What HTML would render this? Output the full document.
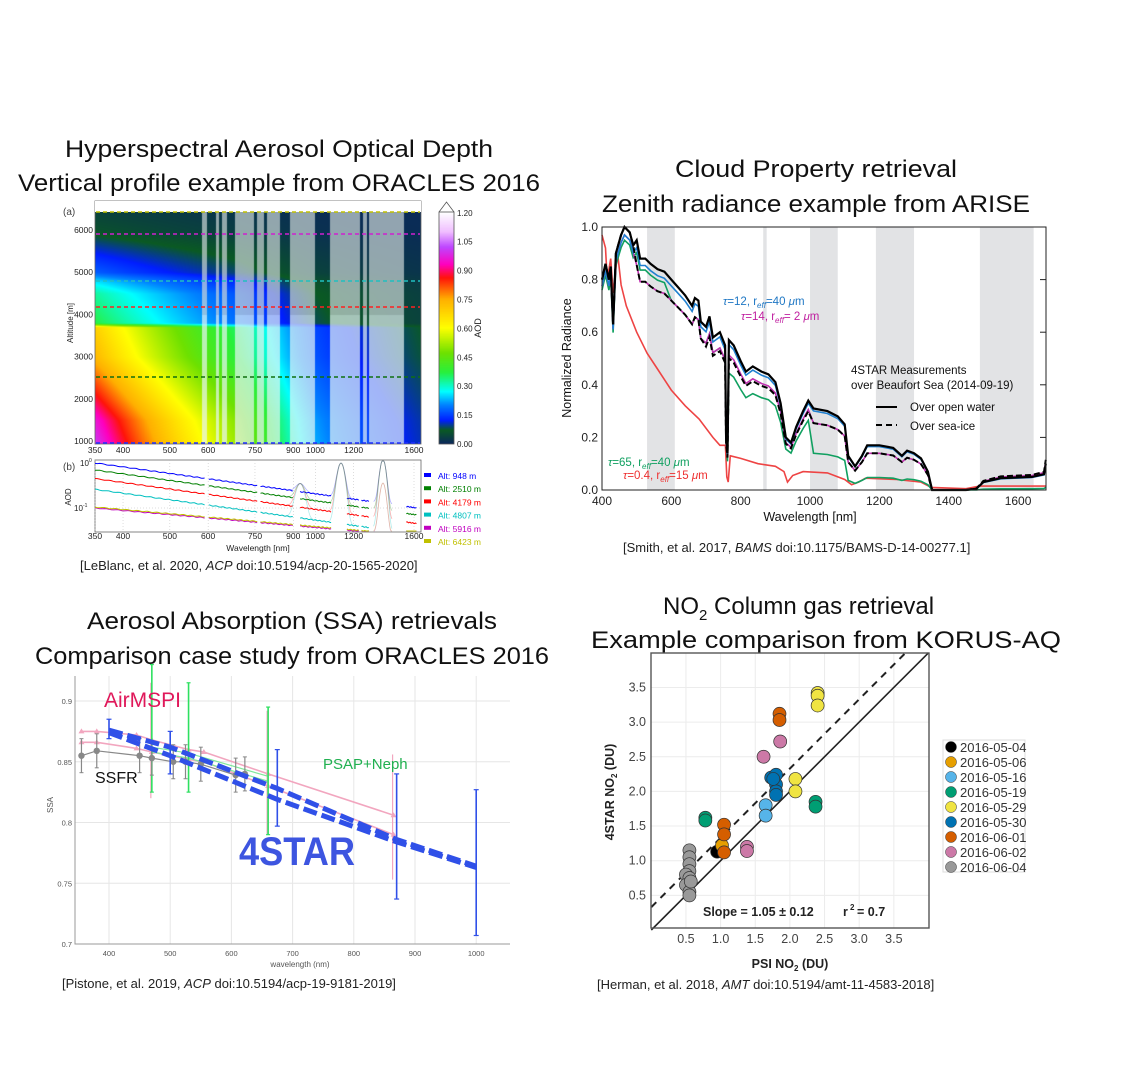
<!DOCTYPE html>
<html><head><meta charset="utf-8">
<style>
html,body{margin:0;padding:0;background:#fff;}
#wrap{position:relative;width:1136px;height:1080px;overflow:hidden;}
svg{position:absolute;left:0;top:0;}
canvas{position:absolute;}
text{font-family:"Liberation Sans",sans-serif;}
.t{font-size:24px;fill:#111;}
.c{font-size:13px;fill:#222;}
</style></head><body>
<div id="wrap">
<canvas id="hm" width="326" height="232" style="left:95px;top:212px;"></canvas>
<canvas id="cb" width="15" height="232" style="left:439px;top:212px;"></canvas>
<svg id="s" width="1136" height="1080" xmlns="http://www.w3.org/2000/svg">
<text class="t" x="65" y="157" textLength="428" lengthAdjust="spacingAndGlyphs">Hyperspectral Aerosol Optical Depth</text>
<text class="t" x="18" y="191" textLength="522" lengthAdjust="spacingAndGlyphs">Vertical profile example from ORACLES 2016</text>
<text class="t" x="675" y="177" textLength="282" lengthAdjust="spacingAndGlyphs">Cloud Property retrieval</text>
<text class="t" x="602" y="212" textLength="428" lengthAdjust="spacingAndGlyphs">Zenith radiance example from ARISE</text>
<text class="t" x="87" y="629" textLength="410" lengthAdjust="spacingAndGlyphs">Aerosol Absorption (SSA) retrievals</text>
<text class="t" x="35" y="664" textLength="514" lengthAdjust="spacingAndGlyphs">Comparison case study from ORACLES 2016</text>
<text class="t" x="663" y="614">NO<tspan font-size="15" dy="6">2</tspan><tspan dy="-6"> Column gas retrieval</tspan></text>
<text class="t" x="591" y="648" textLength="470" lengthAdjust="spacingAndGlyphs">Example comparison from KORUS-AQ</text>
<text class="c" x="80" y="570">[LeBlanc, et al. 2020, <tspan font-style="italic">ACP</tspan> doi:10.5194/acp-20-1565-2020]</text>
<text class="c" x="623" y="552">[Smith, et al. 2017, <tspan font-style="italic">BAMS</tspan> doi:10.1175/BAMS-D-14-00277.1]</text>
<text class="c" x="62" y="988">[Pistone, et al. 2019, <tspan font-style="italic">ACP</tspan> doi:10.5194/acp-19-9181-2019]</text>
<text class="c" x="597" y="989">[Herman, et al. 2018, <tspan font-style="italic">AMT</tspan> doi:10.5194/amt-11-4583-2018]</text>
<g id="g"></g>
</svg>
</div>
<script>
const S=document.getElementById('g');const NS='http://www.w3.org/2000/svg';
function el(t,a,txt){const e=document.createElementNS(NS,t);for(const k in a)e.setAttribute(k,a[k]);if(txt!==undefined)e.textContent=txt;S.appendChild(e);return e;}
function pl(pts,a){a.points=pts.map(p=>p[0].toFixed(1)+','+p[1].toFixed(1)).join(' ');a.fill=a.fill||'none';return el('polyline',a);}
const cmap=[[0,[10,40,90]],[0.07,[10,90,35]],[0.12,[0,30,255]],[0.2,[0,130,255]],[0.27,[0,255,255]],[0.37,[40,240,60]],[0.47,[110,225,0]],[0.6,[255,255,0]],[0.75,[255,175,0]],[0.86,[255,20,10]],[0.93,[255,0,190]],[1.02,[190,70,255]],[1.1,[240,190,255]],[1.2,[255,255,255]]];
function cm(v){if(v<=0)return cmap[0][1];for(let i=1;i<cmap.length;i++){if(v<=cmap[i][0]){const a=cmap[i-1],b=cmap[i];const f=(v-a[0])/(b[0]-a[0]);return a[1].map((c,j)=>c+(b[1][j]-c)*f);}}return [255,255,255];}
function A(alt){const p=[[900,0.88],[1500,0.84],[2000,0.77],[3000,0.64],[3700,0.6],[3800,0.32],[4500,0.28],[4800,0.22],[5000,0.15],[5500,0.1],[6000,0.05],[6500,0.03]];if(alt<=p[0][0])return p[0][1];for(let i=1;i<p.length;i++)if(alt<=p[i][0]){const f=(alt-p[i-1][0])/(p[i][0]-p[i-1][0]);return p[i-1][1]+(p[i][1]-p[i-1][1])*f;}return 0.03;}
const wlx=x=>350*Math.exp(x/209.9);
const lightZ=[[455,470],[497,505],[515,530],[555,612],[620,640],[650,688],[720,795],[840,928],[938,950],[957,1060]];
function colType(x){const zx=(x+45)*3;if(zx<455)return 'a';for(const r of lightZ)if(zx>=r[0]&&zx<r[1])return 'l';return 'd';}
const hc=document.getElementById('hm').getContext('2d');const img=hc.createImageData(326,232);
for(let y=0;y<232;y++){const alt=1000+(441-(212+y))/42.2*1000;for(let x=0;x<326;x++){const w=wlx(x);const t=colType(x);const al=w<700?1.0:1.0+0.5*Math.min(1,(w-700)/300);let v=A(alt)*Math.pow(w/400,-al);let c=cm(v);
if(t==='l'){const g=alt>4000?[205,215,215]:[232,245,245];c=c.map((q,j)=>q*0.3+g[j]*0.7);}
const i=(y*326+x)*4;img.data[i]=c[0];img.data[i+1]=c[1];img.data[i+2]=c[2];img.data[i+3]=255;}}
hc.putImageData(img,0,0);
const cc=document.getElementById('cb').getContext('2d');for(let y=0;y<232;y++){const c=cm(1.2*(1-y/231));cc.fillStyle='rgb('+c.map(Math.round).join(',')+')';cc.fillRect(0,y,15,1);}
el('path',{d:'M439,212 L446.5,202 L454,212',fill:'#fff',stroke:'#555','stroke-width':0.8});
el('rect',{x:439,y:212,width:15,height:232,fill:'none',stroke:'#555','stroke-width':0.8});
['0.00','0.15','0.30','0.45','0.60','0.75','0.90','1.05','1.20'].forEach((s,i)=>el('text',{x:457,y:447-i*28.9,'font-size':8,'font-family':'Liberation Serif',fill:'#222'},s));
el('text',{x:481,y:328,'font-size':9,transform:'rotate(-90 481 328)','text-anchor':'middle',fill:'#222'},'AOD');
el('rect',{x:95,y:201,width:326,height:243,fill:'none',stroke:'#666','stroke-width':0.8});
el('rect',{x:95,y:201,width:326,height:11,fill:'#fff'});
const dl=[[443,'#2030ff'],[377,'#107010'],[307,'#ff2020'],[281,'#20c0c0'],[234,'#d020d0'],[212,'#c0c000']];
dl.forEach(d=>el('line',{x1:96,x2:420,y1:d[0],y2:d[0],stroke:d[1],'stroke-width':1.4,'stroke-dasharray':'4 3'}));
[1000,2000,3000,4000,5000,6000].forEach((a,i)=>el('text',{x:93,y:444-i*42.2,'font-size':8.5,'font-family':'Liberation Serif','text-anchor':'end',fill:'#222'},a));
el('text',{x:63,y:215,'font-size':10,fill:'#444'},'(a)');el('text',{x:63,y:470,'font-size':10,fill:'#444'},'(b)');
el('text',{x:73,y:323,'font-size':8,transform:'rotate(-90 73 323)','text-anchor':'middle',fill:'#222'},'Altitude [m]');
const wt=[350,400,500,600,750,900,1000,1200,1600];const wx=w=>95+209.9*Math.log(w/350);
wt.forEach(w=>{el('text',{x:wx(w),y:453,'font-size':8.5,'font-family':'Liberation Serif','text-anchor':'middle',fill:'#222'},w);el('text',{x:wx(w),y:539,'font-size':8.5,'font-family':'Liberation Serif','text-anchor':'middle',fill:'#222'},w);});
el('rect',{x:95,y:460,width:326,height:72,fill:'#fff',stroke:'#666','stroke-width':0.8});
wt.forEach(w=>el('line',{x1:wx(w),x2:wx(w),y1:460,y2:532,stroke:'#bbb','stroke-width':0.5,'stroke-dasharray':'1 2'}));
el('line',{x1:95,x2:421,y1:508,y2:508,stroke:'#bbb','stroke-width':0.5,'stroke-dasharray':'1 2'});
el('text',{x:80,y:466,'font-size':8,'font-family':'Liberation Serif',fill:'#222'},'10');el('text',{x:89,y:462,'font-size':5,fill:'#222'},'0');
el('text',{x:74,y:511,'font-size':8,'font-family':'Liberation Serif',fill:'#222'},'10');el('text',{x:83,y:507,'font-size':5,fill:'#222'},'-1');
el('text',{x:71,y:497,'font-size':8,transform:'rotate(-90 71 497)','text-anchor':'middle',fill:'#222'},'AOD');
el('text',{x:258,y:551,'font-size':8.5,'text-anchor':'middle',fill:'#222'},'Wavelength [nm]');
const yb=v=>463-Math.log10(v)*45;
const series=[[1.0,1.5,'#0000ff'],[0.7,1.5,'#008000'],[0.45,1.5,'#ff0000'],[0.26,1.5,'#00c0c0'],[0.1,0.95,'#c000c0'],[0.105,0.95,'#c0c000']];
const gaps=[[590,600],[760,770],[900,930],[1080,1160],[1230,1245],[1290,1540]];
series.forEach((s,k)=>{let segs=[],cur=[];for(let w=350;w<=1620;w+=4){const g=gaps.some(r=>w>r[0]&&w<r[1]);if(g){if(cur.length)segs.push(cur);cur=[];continue;}let v=s[0]*Math.pow(w/350,-s[1])*(1+0.02*Math.sin(w*0.3+k));cur.push([wx(w),Math.min(531,Math.max(461,yb(v)))]);}if(cur.length)segs.push(cur);segs.forEach(sg=>pl(sg,{stroke:s[2],'stroke-width':1}));
[[930,0.35],[1130,1.0],[1380,1.2]].forEach((p,j)=>{if(k>3&&j<2)return;const pts=[];for(let w=p[0]-60;w<=p[0]+60;w+=5){const b=s[0]*Math.pow(w/350,-s[1]);const v=b+(p[1]*(k>3?0.3:1)-b)*Math.exp(-Math.pow((w-p[0])/25,2));pts.push([wx(w),Math.min(531,Math.max(461,yb(v)))]);}pl(pts,{stroke:s[2],'stroke-width':0.8,opacity:0.3});});});
const lg=[['Alt: 948 m','#0000ff'],['Alt: 2510 m','#008000'],['Alt: 4179 m','#ff0000'],['Alt: 4807 m','#00c0c0'],['Alt: 5916 m','#c000c0'],['Alt: 6423 m','#c0c000']];
lg.forEach((l,i)=>{const y=476+i*13.2;el('rect',{x:424,y:y-3,width:7,height:4,fill:l[1]});el('text',{x:438,y:y+3,'font-size':8.5,fill:l[1]},l[0]);});

const rx=w=>602+(w-400)*0.3467, ry=v=>490-v*263;
[[530,610],[865,875],[1000,1080],[1190,1300],[1490,1645]].forEach(b=>el('rect',{x:rx(b[0]),y:227,width:rx(b[1])-rx(b[0]),height:263,fill:'#e2e3e5'}));
const blk=[[400,.8],[410,.86],[420,.8],[425,.85],[432,.63],[440,.9],[455,.97],[465,1.0],[480,.98],[490,.93],[500,.95],[510,.88],[525,.88],[540,.86],[560,.84],[580,.83],[600,.8],[620,.77],[640,.74],[660,.7],[668,.73],[678,.72],[685,.64],[700,.62],[710,.66],[720,.58],[740,.6],[755,.55],[758,.2],[762,.14],[766,.57],[780,.55],[800,.49],[815,.45],[835,.47],[860,.45],[880,.44],[900,.41],[915,.33],[930,.2],[945,.18],[960,.24],[980,.3],[995,.34],[1010,.31],[1050,.3],[1080,.28],[1100,.25],[1110,.13],[1130,.09],[1150,.13],[1165,.17],[1200,.17],[1240,.16],[1265,.13],[1280,.15],[1300,.14],[1320,.12],[1340,.07],[1352,0],[1450,0],[1480,.005],[1500,.03],[1550,.045],[1640,.05],[1675,.06],[1680,.1]];
const dsh=blk.map(p=>{let w=p[0],v=p[1];if(w>=500&&w<=1000)v*=(w<700?0.9:0.88);if(w>1000&&w<1360)v*=0.82;if(w>=1480)v*=1.15;return[w,v];});
const blu=blk.map(p=>[p[0],p[1]*(p[0]<1400?0.97:0.95)]);
const mag=blk.map(p=>[p[0],p[1]*(p[0]<500?0.97:p[0]<1000?0.9:p[0]<1400?0.82:1.1)]);
const grn=blk.map(p=>{let w=p[0],v=p[1];let f=w<600?0.95:w<760?0.9:w<1000?0.78:0.45;if(w>1100&&w<1400)f=0.28;if(w>=1400)f=0.1;return[w,v*f];});
const red=[[400,.97],[410,.92],[415,.8],[425,.88],[432,.75],[445,.9],[455,.78],[470,.7],[500,.6],[530,.52],[560,.46],[600,.38],[640,.32],[680,.27],[720,.2],[740,.17],[756,.17],[760,.05],[764,.03],[770,.13],[800,.12],[850,.1],[900,.09],[925,.07],[935,.03],[950,.055],[980,.07],[1050,.065],[1100,.04],[1120,.02],[1140,.03],[1160,.045],[1250,.04],[1320,.03],[1350,.01],[1450,.005],[1490,.015],[1680,.015]];
const P=a=>a.map(p=>[rx(p[0]),ry(p[1])]);
pl(P(red),{stroke:'#ee4444','stroke-width':1.6});
pl(P(grn),{stroke:'#10a060','stroke-width':1.6});
pl(P(mag),{stroke:'#c030b0','stroke-width':1.6});
pl(P(blu),{stroke:'#2080d0','stroke-width':1.6});
pl(P(dsh),{stroke:'#000','stroke-width':2,'stroke-dasharray':'6 3'});
pl(P(blk),{stroke:'#000','stroke-width':2.2});
el('rect',{x:602,y:227,width:444,height:263,fill:'none',stroke:'#222','stroke-width':1});
[0,.2,.4,.6,.8,1].forEach(v=>{el('text',{x:598,y:ry(v)+4,'font-size':12,'font-family':'Liberation Serif','text-anchor':'end',fill:'#222'},v.toFixed(1));el('line',{x1:1040,x2:1046,y1:ry(v),y2:ry(v),stroke:'#222'});});
[400,600,800,1000,1200,1400,1600].forEach(w=>el('text',{x:rx(w),y:505,'font-size':12,'font-family':'Liberation Serif','text-anchor':'middle',fill:'#222'},w));
el('text',{x:810,y:521,'font-size':12.5,'text-anchor':'middle',fill:'#111'},'Wavelength [nm]');
el('text',{x:571,y:358,'font-size':12.5,transform:'rotate(-90 571 358)','text-anchor':'middle',fill:'#111'},'Normalized Radiance');
function ann(x,y,col,t,r){const e=el('text',{x:x,y:y,'font-size':11.5,fill:col});e.innerHTML='<tspan font-style="italic">τ</tspan>='+t+', r<tspan font-size="8" dy="3" font-style="italic">eff</tspan><tspan dy="-3">='+r+' </tspan><tspan font-style="italic">μ</tspan>m';}
ann(723,305,'#1f77c4','12','40');ann(741,320,'#c020a0','14',' 2');ann(608,466,'#10a060','65','40');ann(623,479,'#ee3030','0.4','15');
el('text',{x:851,y:374,'font-size':11.5,fill:'#111'},'4STAR Measurements');
el('text',{x:851,y:389,'font-size':11.5,fill:'#111'},'over Beaufort Sea (2014-09-19)');
el('line',{x1:876,x2:897,y1:407,y2:407,stroke:'#000','stroke-width':2});el('text',{x:910,y:411,'font-size':11.5,fill:'#111'},'Over open water');
el('line',{x1:876,x2:897,y1:425,y2:425,stroke:'#000','stroke-width':2,'stroke-dasharray':'6 4'});el('text',{x:910,y:430,'font-size':11.5,fill:'#111'},'Over sea-ice');

const sx=w=>109+(w-400)*0.612, sy=v=>944-(v-0.7)*1215;
[0.75,0.8,0.85,0.9].forEach(v=>el('line',{x1:75,x2:510,y1:sy(v),y2:sy(v),stroke:'#e6e6e6'}));
[400,500,600,700,800,900,1000].forEach(w=>el('line',{x1:sx(w),x2:sx(w),y1:676,y2:944,stroke:'#e6e6e6'}));
el('polyline',{points:'75,676 75,944 510,944',fill:'none',stroke:'#999','stroke-width':1});
[0.7,0.75,0.8,0.85,0.9].forEach(v=>el('text',{x:72,y:sy(v)+3,'font-size':7.5,'text-anchor':'end',fill:'#555'},String(v)));
[400,500,600,700,800,900,1000].forEach(w=>el('text',{x:sx(w),y:956,'font-size':7.5,'text-anchor':'middle',fill:'#555'},w));
el('text',{x:300,y:967,'font-size':8,'text-anchor':'middle',fill:'#555'},'wavelength (nm)');
el('text',{x:53,y:805,'font-size':8,transform:'rotate(-90 53 805)','text-anchor':'middle',fill:'#555'},'SSA');
const SP=a=>a.map(p=>[sx(p[0]),sy(p[1])]);
const pk1=[[355,.875],[380,.875],[445,.872],[470,.868],[530,.86],[555,.858],[660,.84],[865,.806]];
const pk2=[[355,.866],[380,.866],[445,.861],[470,.858],[530,.852],[555,.85],[660,.83],[865,.79]];
pl(SP(pk1),{stroke:'#f2a6bf','stroke-width':1.6});pl(SP(pk2),{stroke:'#f2a6bf','stroke-width':1.6});
[...pk1,...pk2].forEach(p=>el('path',{d:`M${sx(p[0])-3},${sy(p[1])+2} L${sx(p[0])},${sy(p[1])-3} L${sx(p[0])+3},${sy(p[1])+2}Z`,fill:'#f2a6bf'}));
[[470,.82,.915],[660,.79,.892],[865,.753,.856]].forEach(e=>el('line',{x1:sx(e[0])-1,x2:sx(e[0])-1,y1:sy(e[1]),y2:sy(e[2]),stroke:'#f2a6bf','stroke-width':1.2}));
const gr=[[470,.86,.825,.93],[530,.855,.825,.915],[660,.836,.79,.895]];
pl(SP([[470,.858],[530,.853],[660,.834]]),{stroke:'#7fe89a','stroke-width':1.2});pl(SP([[470,.862],[530,.857],[660,.838]]),{stroke:'#7fe89a','stroke-width':1.2});
gr.forEach(e=>{el('line',{x1:sx(e[0]),x2:sx(e[0]),y1:sy(e[2]),y2:sy(e[3]),stroke:'#2ee060','stroke-width':1.6});[e[2],e[3]].forEach(v=>el('line',{x1:sx(e[0])-2,x2:sx(e[0])+2,y1:sy(v),y2:sy(v),stroke:'#2ee060','stroke-width':1.2}));});
const gy=[[355,.855],[380,.859],[450,.855],[470,.853],[505,.85],[525,.85],[550,.848],[607,.839],[622,.84]];
pl(SP(gy),{stroke:'#888','stroke-width':1.2});
gy.forEach(p=>{el('line',{x1:sx(p[0]),x2:sx(p[0]),y1:sy(p[1]-.014),y2:sy(p[1]+.014),stroke:'#888','stroke-width':1.2});[-.014,.014].forEach(d=>el('line',{x1:sx(p[0])-2,x2:sx(p[0])+2,y1:sy(p[1]+d),y2:sy(p[1]+d),stroke:'#888'}));el('circle',{cx:sx(p[0]),cy:sy(p[1]),r:3.2,fill:'#888'});});
const b1=[[400,.876],[500,.862],[675,.828],[870,.786],[1000,.764]],b2=[[400,.874],[500,.855],[675,.819],[870,.784],[1000,.763]];
[[400,.869,.885],[500,.84,.875],[675,.797,.86],[870,.737,.84],[1000,.707,.827]].forEach(e=>{el('line',{x1:sx(e[0]),x2:sx(e[0]),y1:sy(e[1]),y2:sy(e[2]),stroke:'#3050e8','stroke-width':1.6});[e[1],e[2]].forEach(v=>el('line',{x1:sx(e[0])-2.5,x2:sx(e[0])+2.5,y1:sy(v),y2:sy(v),stroke:'#3050e8','stroke-width':1.2}));});
pl(SP(b1),{stroke:'#3050e8','stroke-width':5,'stroke-dasharray':'14 5'});pl(SP(b2),{stroke:'#3050e8','stroke-width':5,'stroke-dasharray':'14 5'});
el('text',{x:104,y:707,'font-size':21,fill:'#e0185a'},'AirMSPI');
el('text',{x:95,y:783,'font-size':16,fill:'#111'},'SSFR');
el('text',{x:323,y:769,'font-size':15,fill:'#20b050'},'PSAP+Neph');
el('text',{x:239,y:865,'font-size':40,'font-weight':'bold',fill:'#3d55e0',textLength:116,lengthAdjust:'spacingAndGlyphs'},'4STAR');

const nx=v=>651.3+v*69.3, ny=v=>930-v*69.3;
[0.5,1,1.5,2,2.5,3,3.5].forEach(v=>{el('line',{x1:nx(v),x2:nx(v),y1:653,y2:928,stroke:'#ececec'});el('line',{x1:651,x2:929,y1:ny(v),y2:ny(v),stroke:'#ececec'});});
el('line',{x1:nx(0),y1:ny(0),x2:nx(4),y2:ny(4),stroke:'#222','stroke-width':1.6});
el('line',{x1:nx(0),y1:ny(0.33),x2:nx(3.67),y2:ny(4),stroke:'#222','stroke-width':2,'stroke-dasharray':'7 6'});
const C={a:'#000',b:'#e69f00',c:'#56b4e9',d:'#009e73',e:'#f0e442',f:'#0072b2',g:'#d55e00',h:'#cc79a7',i:'#999'};
const pts=[['i',.55,1.15],['i',.55,1.05],['i',.55,.95],['i',.55,.85],['i',.5,.8],['i',.55,.75],['i',.5,.65],['i',.55,.55],['i',.55,.5],['i',.57,.7],['a',.95,1.13],['b',1.02,1.22],['g',1.05,1.52],['g',1.05,1.38],['g',1.05,1.12],['d',.78,1.62],['d',.78,1.58],['d',2.37,1.85],['d',2.37,1.78],['c',1.65,1.8],['c',1.65,1.65],['h',1.62,2.5],['h',1.86,2.72],['h',1.38,1.2],['h',1.38,1.14],['f',1.73,2.2],['f',1.8,2.24],['f',1.8,2.1],['f',1.8,2.0],['f',1.8,1.95],['f',1.76,2.18],['e',2.08,2.18],['e',2.08,2.0],['e',2.4,3.42],['e',2.4,3.38],['e',2.4,3.24],['g',1.85,3.12],['g',1.85,3.03]];
pts.forEach(p=>el('circle',{cx:nx(p[1]),cy:ny(p[2]),r:6.5,fill:C[p[0]],stroke:'#333','stroke-width':0.7}));
el('rect',{x:651,y:653,width:278,height:275,fill:'none',stroke:'#555','stroke-width':1.4});
[0.5,1,1.5,2,2.5,3,3.5].forEach(v=>{el('text',{x:nx(v),y:943,'font-size':12.5,'text-anchor':'middle',fill:'#444'},v.toFixed(1));el('text',{x:646,y:ny(v)+4,'font-size':12.5,'text-anchor':'end',fill:'#444'},v.toFixed(1));});
el('text',{x:703,y:916,'font-size':12.5,'font-weight':'bold',fill:'#222'},'Slope = 1.05 ± 0.12');
el('text',{x:843,y:916,'font-size':12.5,'font-weight':'bold',fill:'#222'},'r');el('text',{x:850,y:910,'font-size':8,'font-weight':'bold',fill:'#222'},'2');el('text',{x:857,y:916,'font-size':12.5,'font-weight':'bold',fill:'#222'},' = 0.7');
const xt=el('text',{x:790,y:968,'font-size':12.5,'font-weight':'bold','text-anchor':'middle',fill:'#222'});xt.innerHTML='PSI NO<tspan font-size="8" dy="3">2</tspan><tspan dy="-3"> (DU)</tspan>';
const yt=el('text',{x:614,y:792,'font-size':12.5,'font-weight':'bold','text-anchor':'middle',fill:'#222',transform:'rotate(-90 614 792)'});yt.innerHTML='4STAR NO<tspan font-size="8" dy="3">2</tspan><tspan dy="-3"> (DU)</tspan>';
el('rect',{x:943,y:740,width:82,height:132,fill:'#fff',stroke:'#ddd'});
[['a','2016-05-04'],['b','2016-05-06'],['c','2016-05-16'],['d','2016-05-19'],['e','2016-05-29'],['f','2016-05-30'],['g','2016-06-01'],['h','2016-06-02'],['i','2016-06-04']].forEach((l,i)=>{const y=747+i*15;el('circle',{cx:951,cy:y,r:5.5,fill:C[l[0]],stroke:'#333','stroke-width':0.5});el('text',{x:960,y:y+5,'font-size':13,fill:'#333'},l[1]);});
</script>
</body></html>
